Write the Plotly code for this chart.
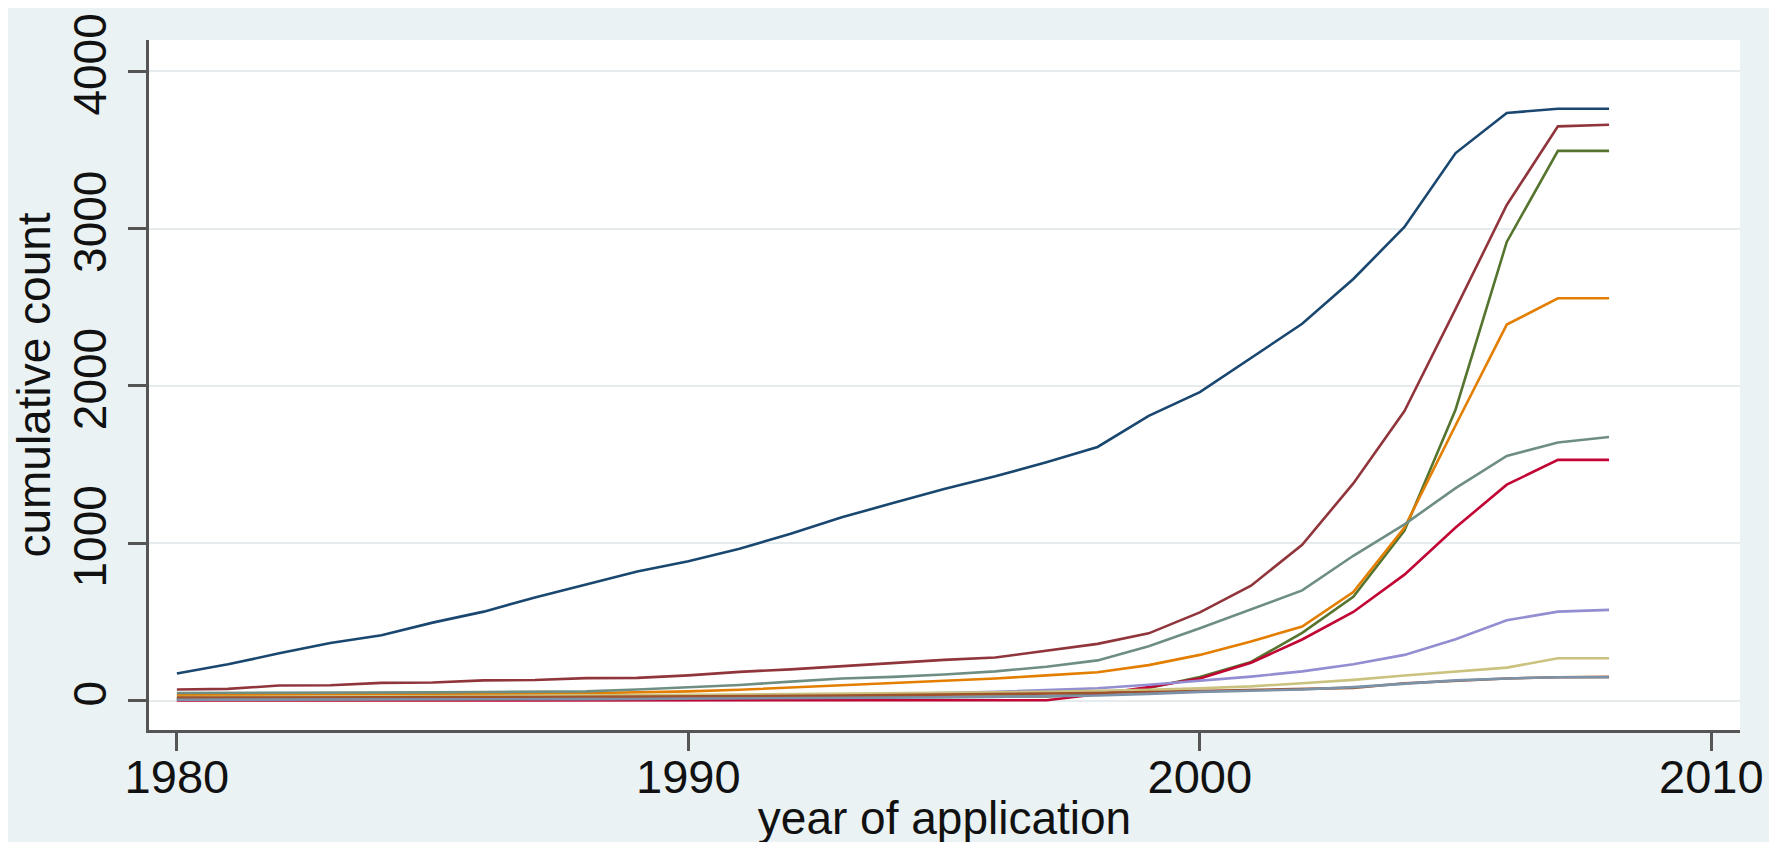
import plotly.graph_objects as go

years = list(range(1980, 2009))

navy = [172, 230, 300, 365, 415, 495, 565, 655, 737, 820, 885, 965, 1060, 1165, 1255,
        1345, 1425, 1515, 1612, 1810, 1960, 2175, 2395, 2680, 3010, 3480, 3735, 3762, 3762]
maroon = [70, 74, 95, 97, 112, 114, 128, 130, 142, 144, 160, 182, 198, 218, 240,
          258, 273, 318, 360, 427, 560, 730, 990, 1380, 1840, 2490, 3150, 3650, 3660]
forest_green = [12, 12, 13, 13, 14, 14, 15, 15, 16, 17, 18, 19, 20, 21, 22,
                23, 24, 26, 40, 80, 150, 245, 430, 660, 1080, 1850, 2915, 3494, 3494]
dkorange = [35, 35, 38, 38, 40, 40, 42, 44, 46, 50, 58, 68, 82, 97, 112,
            125, 140, 160, 180, 225, 290, 375, 470, 690, 1100, 1750, 2390, 2557, 2557]
teal = [48, 48, 50, 50, 52, 52, 54, 56, 58, 70, 85, 99, 120, 140, 150,
        165, 185, 215, 255, 345, 460, 580, 700, 920, 1120, 1350, 1555, 1640, 1675]
cranberry = [0, 0, 0, 0, 0, 0, 0, 0, 0, 0, 0, 0, 0, 0, 0,
             0, 0, 2, 40, 85, 140, 240, 388, 563, 800, 1100, 1372, 1530, 1530]
lavender = [8, 8, 10, 10, 12, 13, 15, 17, 20, 22, 25, 28, 32, 36, 42,
            48, 55, 65, 78, 100, 125, 152, 185, 230, 290, 390, 510, 565, 576]
khaki = [22, 22, 24, 25, 26, 27, 28, 30, 32, 34, 36, 38, 40, 42, 45,
         48, 52, 56, 60, 68, 78, 90, 110, 131, 159, 184, 209, 269, 269]
sienna = [18, 18, 19, 19, 20, 20, 21, 22, 23, 24, 25, 27, 29, 31, 34,
          37, 40, 44, 48, 54, 60, 65, 70, 80, 110, 125, 140, 148, 150]
emidblue = [5, 5, 6, 6, 7, 7, 8, 8, 9, 10, 11, 12, 14, 16, 18,
            20, 23, 27, 32, 42, 55, 62, 70, 85, 105, 128, 140, 148, 148]

series = [
    ("navy", navy, "rgb(26,71,111)"),
    ("maroon", maroon, "rgb(144,53,59)"),
    ("forest_green", forest_green, "rgb(85,117,47)"),
    ("dkorange", dkorange, "rgb(227,126,0)"),
    ("teal", teal, "rgb(110,142,132)"),
    ("cranberry", cranberry, "rgb(193,5,52)"),
    ("lavender", lavender, "rgb(147,141,210)"),
    ("khaki", khaki, "rgb(202,194,126)"),
    ("sienna", sienna, "rgb(160,82,45)"),
    ("emidblue", emidblue, "rgb(123,146,168)"),
]

x_ticks = [1980, 1990, 2000, 2010]
y_ticks = [0, 1000, 2000, 3000, 4000]

fig = go.Figure()
for name, vals, col in series:
    fig.add_trace(go.Scatter(x=years, y=vals, mode="lines", name=name,
                             line=dict(color=col, width=2.6)))

font_family = "Liberation Sans, Arial, sans-serif"
fig.update_layout(
    width=1777, height=842,
    paper_bgcolor="#EAF2F3",
    plot_bgcolor="#FFFFFF",
    showlegend=False,
    margin=dict(l=141, r=45, t=32, b=120),
    font=dict(family=font_family, size=46, color="#111111"),
)
fig.update_xaxes(
    range=[1979.455, 2010.56],
    tickvals=x_ticks,
    ticktext=[str(v) for v in x_ticks],
    showgrid=False, zeroline=False,
    showline=True, linecolor="#555555", linewidth=3,
    ticks="outside", ticklen=18, tickwidth=3, tickcolor="#555555",
    ticklabelstandoff=-14,
    tickfont=dict(size=47, family=font_family, color="#111111"),
    title=dict(text="year of application", font=dict(size=46, family=font_family, color="#111111"), standoff=0),
    automargin=False,
)
fig.update_yaxes(
    range=[-187.5, 4199],
    tickvals=y_ticks,
    ticktext=[str(v) for v in y_ticks],
    tickangle=-90,
    showgrid=True, gridcolor="#E6ECEE", gridwidth=2,
    zeroline=False,
    showline=True, linecolor="#555555", linewidth=3,
    ticks="outside", ticklen=18, tickwidth=3, tickcolor="#555555",
    ticklabelstandoff=4,
    tickfont=dict(size=46, family=font_family, color="#111111"),
    title=dict(text="cumulative count", font=dict(size=46, family=font_family, color="#111111"), standoff=3),
    automargin=False,
)

fig.write_html("out.html")
